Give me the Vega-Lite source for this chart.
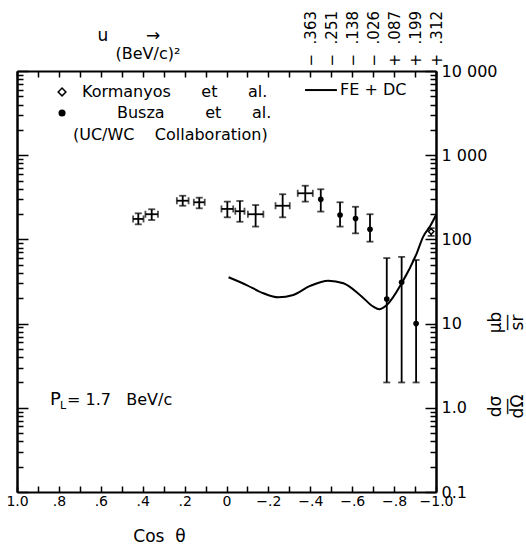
{
  "$schema": "https://vega.github.io/schema/vega-lite/v6.json",
  "width": 419,
  "height": 421,
  "autosize": {"type": "none"},
  "padding": {"left": 17, "top": 71, "right": 90, "bottom": 54},
  "background": "white",
  "config": {
    "view": {"stroke": null},
    "font": "DejaVu Sans",
    "axis": {"domainColor": "black", "tickColor": "black", "labelColor": "black", "titleColor": "black", "domainWidth": 2, "tickWidth": 1.5, "grid": false, "labelFont": "DejaVu Sans", "titleFont": "DejaVu Sans", "titleFontWeight": "normal", "labelFlush": false, "labelOverlap": false}
  },
  "datasets": {
    "curve": [
      {"c": -0.01, "v": 35.5}, {"c": -0.096, "v": 28.7}, {"c": -0.176, "v": 22.9}, {"c": -0.247, "v": 20.5},
      {"c": -0.319, "v": 21.9}, {"c": -0.399, "v": 28.0}, {"c": -0.486, "v": 32.3}, {"c": -0.558, "v": 30.1},
      {"c": -0.637, "v": 21.9}, {"c": -0.701, "v": 15.9}, {"c": -0.729, "v": 14.8}, {"c": -0.765, "v": 16.6},
      {"c": -0.836, "v": 30.1}, {"c": -0.908, "v": 68.4}, {"c": -0.939, "v": 108}, {"c": -0.971, "v": 142},
      {"c": -1.0, "v": 195}
    ],
    "pts": [
      {"g": "open", "c": 0.421, "v": 175, "lo": 151, "hi": 204, "clo": 0.396, "chi": 0.446},
      {"g": "open", "c": 0.357, "v": 199, "lo": 170, "hi": 228, "clo": 0.327, "chi": 0.387},
      {"g": "open", "c": 0.209, "v": 288, "lo": 251, "hi": 330, "clo": 0.181, "chi": 0.237},
      {"g": "open", "c": 0.130, "v": 276, "lo": 234, "hi": 313, "clo": 0.104, "chi": 0.156},
      {"g": "open", "c": -0.004, "v": 230, "lo": 183, "hi": 281, "clo": -0.032, "chi": 0.024},
      {"g": "open", "c": -0.064, "v": 216, "lo": 162, "hi": 286, "clo": -0.086, "chi": -0.042},
      {"g": "open", "c": -0.139, "v": 199, "lo": 142, "hi": 256, "clo": -0.176, "chi": -0.102},
      {"g": "open", "c": -0.268, "v": 251, "lo": 183, "hi": 344, "clo": -0.302, "chi": -0.234},
      {"g": "open", "c": -0.376, "v": 353, "lo": 281, "hi": 434, "clo": -0.412, "chi": -0.340},
      {"g": "filled", "c": -0.450, "v": 299, "lo": 214, "hi": 394},
      {"g": "filled", "c": -0.542, "v": 195, "lo": 142, "hi": 276},
      {"g": "filled", "c": -0.616, "v": 177, "lo": 118, "hi": 244},
      {"g": "filled", "c": -0.685, "v": 132, "lo": 94, "hi": 199},
      {"g": "filled", "c": -0.765, "v": 19.6, "lo": 2.0, "hi": 60},
      {"g": "filled", "c": -0.836, "v": 31, "lo": 2.0, "hi": 62},
      {"g": "filled", "c": -0.905, "v": 10, "lo": 2.0, "hi": 57},
      {"g": "kor", "c": -0.977, "v": 124, "lo": 110, "hi": 136}
    ],
    "notes": [
      {"kind": "txt", "c": 0.690, "v": 5640, "t": "Kormanyos\u00a0\u00a0\u00a0\u00a0\u00a0\u00a0et\u00a0\u00a0\u00a0\u00a0\u00a0\u00a0al."},
      {"kind": "txt", "c": 0.523, "v": 3170, "t": "Busza\u00a0\u00a0\u00a0\u00a0\u00a0\u00a0\u00a0\u00a0et\u00a0\u00a0\u00a0\u00a0\u00a0\u00a0al."},
      {"kind": "txt", "c": 0.733, "v": 1738, "t": "(UC/WC\u00a0\u00a0\u00a0\u00a0Collaboration)"},
      {"kind": "txt", "c": -0.542, "v": 5940, "t": "FE\u00a0+\u00a0DC"},
      {"kind": "txt", "c": 0.761, "v": 1.24, "t": "=\u00a01.7\u00a0\u00a0\u00a0BeV/c"},
      {"kind": "P", "c": 0.842, "v": 1.24, "t": "P"},
      {"kind": "L", "c": 0.795, "v": 1.05, "t": "L"},
      {"kind": "kd", "c": 0.785, "v": 5640},
      {"kind": "kb", "c": 0.785, "v": 3170},
      {"kind": "kl", "c": -0.375, "c2": -0.527, "v": 5940}
    ]
  },
  "resolve": {"axis": {"x": "independent", "y": "independent"}},
  "layer": [
    {
      "data": {"name": "curve"},
      "mark": {"type": "line", "color": "black", "strokeWidth": 2, "interpolate": "monotone"},
      "encoding": {
        "x": {"field": "c", "type": "quantitative", "scale": {"domain": [-1, 1], "reverse": true, "nice": false, "zero": false},
          "axis": {"orient": "bottom", "values": [-1,-0.9,-0.8,-0.7,-0.6,-0.5,-0.4,-0.3,-0.2,-0.1,0,0.1,0.2,0.3,0.4,0.5,0.6,0.7,0.8,0.9,1],
            "tickSize": -6, "labelPadding": 8, "labelFontSize": 14, "labelBaseline": "top", "labelAlign": "center",
            "labelExpr": "abs(round(datum.value*10))%2==1 ? '' : datum.value==1 ? '1.0' : datum.value==-1 ? '−1.0' : datum.value==0 ? '0' : (datum.value<0 ? '−.' : '.') + abs(round(datum.value*10))",
            "title": "Cos\u00a0\u00a0θ", "titleFontSize": 17, "titleX": 142, "titleY": 44, "titleAlign": "center", "titleBaseline": "middle"}},
        "y": {"field": "v", "type": "quantitative", "scale": {"type": "log", "domain": [0.1, 10000], "nice": false},
          "axis": {"orient": "left", "values": [0.1, 1, 10, 100, 1000, 10000], "tickSize": -11, "labels": false, "title": null}}
      }
    },
    {
      "data": {"name": "pts"},
      "mark": {"type": "rule", "color": "black", "strokeWidth": 1.8},
      "encoding": {
        "x": {"field": "c", "type": "quantitative", "scale": {"domain": [-1, 1], "reverse": true, "nice": false, "zero": false},
          "axis": {"orient": "top", "values": [-1,-0.9,-0.8,-0.7,-0.6,-0.5,-0.4,-0.3,-0.2,-0.1,0,0.1,0.2,0.3,0.4,0.5,0.6,0.7,0.8,0.9,1],
            "tickSize": -6, "labelPadding": 11, "labelFontSize": 15, "labelAngle": -90, "labelAlign": "left", "labelBaseline": "middle",
            "labelExpr": "datum.value < -0.35 ? ['−\u00a0\u00a0.363','−\u00a0\u00a0.251','−\u00a0\u00a0.138','−\u00a0\u00a0.026','+\u00a0\u00a0.087','+\u00a0\u00a0.199','+\u00a0\u00a0.312'][round(-datum.value*10)-4] : ''",
            "title": "u\u00a0\u00a0\u00a0\u00a0\u00a0\u00a0\u00a0→", "titleFontSize": 17, "titleAlign": "left", "titleBaseline": "middle", "titleX": 80, "titleY": -36}},
        "y": {"field": "lo", "type": "quantitative", "scale": {"type": "log", "domain": [0.1, 10000], "nice": false},
          "axis": {"orient": "right", "values": [0.1, 1, 10, 100, 1000, 10000], "tickSize": -11, "labelPadding": 16, "labelFontSize": 16, "labelAlign": "left", "labelBaseline": "middle",
            "labelExpr": "datum.value == 10000 ? '10 000' : datum.value == 1000 ? '1 000' : datum.value == 100 ? '100' : datum.value == 10 ? '10' : datum.value == 1 ? '1.0' : '0.1'", "title": null}},
        "y2": {"field": "hi"}
      }
    },
    {
      "data": {"name": "pts"},
      "mark": {"type": "tick", "orient": "horizontal", "color": "black", "size": 7, "thickness": 1.8},
      "encoding": {
        "x": {"field": "c", "type": "quantitative", "scale": {"domain": [-1, 1], "reverse": true, "nice": false, "zero": false}, "axis": null},
        "y": {"field": "lo", "type": "quantitative", "scale": {"type": "log", "domain": [0.1, 10000], "nice": false},
          "axis": {"orient": "left", "values": [0.2,0.3,0.4,0.5,0.6,0.7,0.8,0.9,2,3,4,5,6,7,8,9,20,30,40,50,60,70,80,90,200,300,400,500,600,700,800,900,2000,3000,4000,5000,6000,7000,8000,9000], "tickSize": -6, "labels": false, "title": null}}
      }
    },
    {
      "data": {"name": "pts"},
      "mark": {"type": "tick", "orient": "horizontal", "color": "black", "size": 7, "thickness": 1.8},
      "encoding": {
        "x": {"field": "c", "type": "quantitative", "scale": {"domain": [-1, 1], "reverse": true, "nice": false, "zero": false},
          "axis": {"orient": "top", "domain": false, "ticks": false, "labels": false, "title": "(BeV/c)²", "titleFontSize": 16, "titleAlign": "left", "titleBaseline": "middle", "titleX": 98, "titleY": -18}},
        "y": {"field": "hi", "type": "quantitative", "scale": {"type": "log", "domain": [0.1, 10000], "nice": false},
          "axis": {"orient": "right", "values": [0.2,0.3,0.4,0.5,0.6,0.7,0.8,0.9,2,3,4,5,6,7,8,9,20,30,40,50,60,70,80,90,200,300,400,500,600,700,800,900,2000,3000,4000,5000,6000,7000,8000,9000], "tickSize": -6, "labels": false, "title": null}}
      }
    },
    {
      "data": {"name": "pts"},
      "transform": [{"filter": "datum.g == 'open'"}],
      "mark": {"type": "rule", "color": "black", "strokeWidth": 1.8},
      "encoding": {
        "x": {"field": "clo", "type": "quantitative", "scale": {"domain": [-1, 1], "reverse": true, "nice": false, "zero": false}, "axis": null},
        "x2": {"field": "chi"},
        "y": {"field": "v", "type": "quantitative", "scale": {"type": "log", "domain": [0.1, 10000], "nice": false},
          "axis": {"orient": "right", "domain": false, "ticks": false, "labels": false, "title": ["dσ", "—", "dΩ"], "titleFontSize": 17, "titleLineHeight": 11, "titleAngle": -90, "titleAlign": "center", "titleBaseline": "middle", "titleX": 59, "titleY": 335}}
      }
    },
    {
      "data": {"name": "pts"},
      "transform": [{"filter": "datum.g == 'open'"}],
      "mark": {"type": "tick", "orient": "vertical", "color": "black", "size": 7, "thickness": 1.8},
      "encoding": {
        "x": {"field": "clo", "type": "quantitative", "scale": {"domain": [-1, 1], "reverse": true, "nice": false, "zero": false}, "axis": null},
        "y": {"field": "v", "type": "quantitative", "scale": {"type": "log", "domain": [0.1, 10000], "nice": false},
          "axis": {"orient": "right", "domain": false, "ticks": false, "labels": false, "title": ["μb", "—", "sr"], "titleFontSize": 17, "titleLineHeight": 11, "titleAngle": -90, "titleAlign": "center", "titleBaseline": "middle", "titleX": 59, "titleY": 251}}
      }
    },
    {
      "data": {"name": "pts"},
      "transform": [{"filter": "datum.g == 'open'"}],
      "mark": {"type": "tick", "orient": "vertical", "color": "black", "size": 7, "thickness": 1.8},
      "encoding": {
        "x": {"field": "chi", "type": "quantitative", "scale": {"domain": [-1, 1], "reverse": true, "nice": false, "zero": false}, "axis": null},
        "y": {"field": "v", "type": "quantitative", "scale": {"type": "log", "domain": [0.1, 10000], "nice": false}, "axis": null}
      }
    },
    {
      "data": {"name": "pts"},
      "transform": [{"filter": "datum.g == 'filled'"}],
      "mark": {"type": "point", "shape": "circle", "filled": true, "color": "black", "size": 32, "opacity": 1},
      "encoding": {
        "x": {"field": "c", "type": "quantitative", "scale": {"domain": [-1, 1], "reverse": true, "nice": false, "zero": false}, "axis": null},
        "y": {"field": "v", "type": "quantitative", "scale": {"type": "log", "domain": [0.1, 10000], "nice": false}, "axis": null}
      }
    },
    {
      "data": {"name": "pts"},
      "transform": [{"filter": "datum.g == 'kor'"}],
      "mark": {"type": "point", "shape": "diamond", "filled": true, "fill": "white", "stroke": "black", "strokeWidth": 1.5, "size": 30, "opacity": 1},
      "encoding": {
        "x": {"field": "c", "type": "quantitative", "scale": {"domain": [-1, 1], "reverse": true, "nice": false, "zero": false}, "axis": null},
        "y": {"field": "v", "type": "quantitative", "scale": {"type": "log", "domain": [0.1, 10000], "nice": false}, "axis": null}
      }
    },
    {
      "data": {"name": "notes"},
      "transform": [{"filter": "datum.kind == 'txt'"}],
      "mark": {"type": "text", "align": "left", "baseline": "middle", "fontSize": 16, "color": "black", "font": "DejaVu Sans"},
      "encoding": {
        "x": {"field": "c", "type": "quantitative", "scale": {"domain": [-1, 1], "reverse": true, "nice": false, "zero": false}, "axis": null},
        "y": {"field": "v", "type": "quantitative", "scale": {"type": "log", "domain": [0.1, 10000], "nice": false}, "axis": null},
        "text": {"field": "t"}
      }
    },
    {
      "data": {"name": "notes"},
      "transform": [{"filter": "datum.kind == 'P'"}],
      "mark": {"type": "text", "align": "left", "baseline": "middle", "fontSize": 18, "color": "black", "font": "DejaVu Sans"},
      "encoding": {
        "x": {"field": "c", "type": "quantitative", "scale": {"domain": [-1, 1], "reverse": true, "nice": false, "zero": false}, "axis": null},
        "y": {"field": "v", "type": "quantitative", "scale": {"type": "log", "domain": [0.1, 10000], "nice": false}, "axis": null},
        "text": {"field": "t"}
      }
    },
    {
      "data": {"name": "notes"},
      "transform": [{"filter": "datum.kind == 'L'"}],
      "mark": {"type": "text", "align": "left", "baseline": "middle", "fontSize": 11, "color": "black", "font": "DejaVu Sans"},
      "encoding": {
        "x": {"field": "c", "type": "quantitative", "scale": {"domain": [-1, 1], "reverse": true, "nice": false, "zero": false}, "axis": null},
        "y": {"field": "v", "type": "quantitative", "scale": {"type": "log", "domain": [0.1, 10000], "nice": false}, "axis": null},
        "text": {"field": "t"}
      }
    },
    {
      "data": {"name": "notes"},
      "transform": [{"filter": "datum.kind == 'kd'"}],
      "mark": {"type": "point", "shape": "diamond", "filled": false, "color": "black", "strokeWidth": 1.5, "size": 60, "opacity": 1},
      "encoding": {
        "x": {"field": "c", "type": "quantitative", "scale": {"domain": [-1, 1], "reverse": true, "nice": false, "zero": false}, "axis": null},
        "y": {"field": "v", "type": "quantitative", "scale": {"type": "log", "domain": [0.1, 10000], "nice": false}, "axis": null}
      }
    },
    {
      "data": {"name": "notes"},
      "transform": [{"filter": "datum.kind == 'kb'"}],
      "mark": {"type": "point", "shape": "circle", "filled": true, "color": "black", "size": 50, "opacity": 1},
      "encoding": {
        "x": {"field": "c", "type": "quantitative", "scale": {"domain": [-1, 1], "reverse": true, "nice": false, "zero": false}, "axis": null},
        "y": {"field": "v", "type": "quantitative", "scale": {"type": "log", "domain": [0.1, 10000], "nice": false}, "axis": null}
      }
    },
    {
      "data": {"name": "notes"},
      "transform": [{"filter": "datum.kind == 'kl'"}],
      "mark": {"type": "rule", "color": "black", "strokeWidth": 2},
      "encoding": {
        "x": {"field": "c", "type": "quantitative", "scale": {"domain": [-1, 1], "reverse": true, "nice": false, "zero": false}, "axis": null},
        "x2": {"field": "c2"},
        "y": {"field": "v", "type": "quantitative", "scale": {"type": "log", "domain": [0.1, 10000], "nice": false}, "axis": null}
      }
    }
  ]
}
